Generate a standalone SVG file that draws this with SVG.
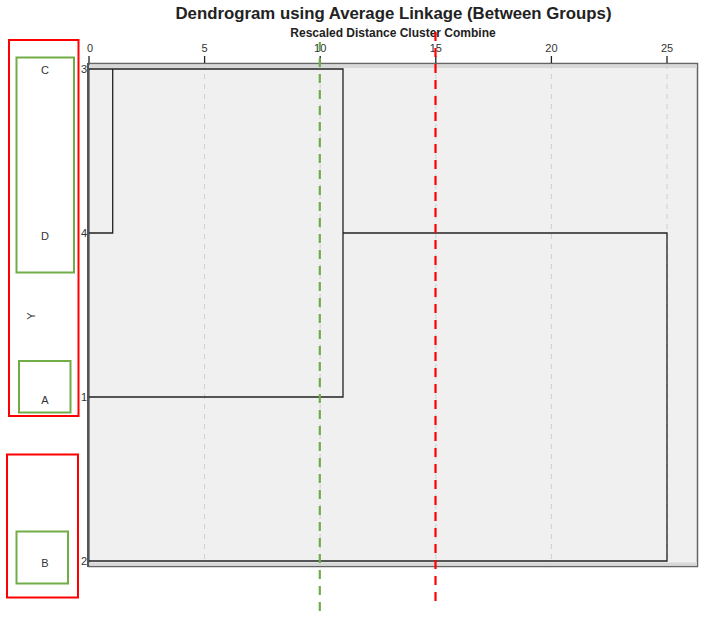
<svg xmlns="http://www.w3.org/2000/svg" width="706" height="620" viewBox="0 0 706 620">
<style>
text{font-family:"Liberation Sans",Arial,sans-serif;fill:#222}
.title{font-size:16.8px;font-weight:bold;text-anchor:middle}
.sub{font-size:12px;font-weight:bold;text-anchor:middle}
.tick{font-size:11px;text-anchor:middle;fill:#333}
.row{font-size:11px;text-anchor:end;fill:#333}
.lbl{font-size:11px;text-anchor:middle;fill:#333}
.grid{stroke:#cfcfcf;stroke-width:1;stroke-dasharray:5,5}
.dend{fill:none;stroke:#222;stroke-width:1.3}
.red{fill:none;stroke:#f00;stroke-width:2}
.green{fill:none;stroke:#70ad47;stroke-width:2}
.cut{fill:none;stroke-width:2.2;stroke-dasharray:9,7}
</style>
<rect width="706" height="620" fill="#fff"/>
<text class="title" x="393.5" y="19">Dendrogram using Average Linkage (Between Groups)</text>
<text class="sub" x="393" y="36.5">Rescaled Distance Cluster Combine</text>
<g id="plot">
<rect x="89" y="63.5" width="608.5" height="503" fill="#f0f0f0" stroke="#666" stroke-width="1.5"/>
<line x1="89" y1="66.5" x2="697" y2="66.5" stroke="#d8d8d8" stroke-width="3"/>
<line x1="89" y1="564" x2="697" y2="564" stroke="#d8d8d8" stroke-width="3"/>
<line x1="88" y1="63" x2="88" y2="567" stroke="#555" stroke-width="2"/>
<g id="grid">
<line class="grid" x1="204.6" y1="64" x2="204.6" y2="566"/>
<line class="grid" x1="320.2" y1="64" x2="320.2" y2="566"/>
<line class="grid" x1="435.8" y1="64" x2="435.8" y2="566"/>
<line class="grid" x1="551.4" y1="64" x2="551.4" y2="566"/>
<line class="grid" x1="667" y1="64" x2="667" y2="566"/>
</g>
<g id="ticks" stroke="#222" stroke-width="1.3">
<line x1="89" y1="56" x2="89" y2="63"/>
<line x1="204.6" y1="56" x2="204.6" y2="63"/>
<line x1="320.2" y1="56" x2="320.2" y2="63"/>
<line x1="435.8" y1="56" x2="435.8" y2="63"/>
<line x1="551.4" y1="56" x2="551.4" y2="63"/>
<line x1="667" y1="56" x2="667" y2="63"/>
</g>
<text class="tick" x="90" y="52">0</text>
<text class="tick" x="204.6" y="52">5</text>
<text class="tick" x="320.2" y="52">10</text>
<text class="tick" x="435.8" y="52">15</text>
<text class="tick" x="551.4" y="52">20</text>
<text class="tick" x="667" y="52">25</text>
<text class="row" x="87" y="73">3</text>
<text class="row" x="87" y="237">4</text>
<text class="row" x="87" y="401">1</text>
<text class="row" x="87" y="565">2</text>
</g>
<g id="connectors">
<polyline class="dend" points="89,69 343,69 343,397 89,397"/>
<polyline class="dend" points="112.7,69 112.7,233 89,233"/>
<polyline class="dend" points="343,233 667,233 667,561 89,561"/>
</g>
<g id="cuts">
<line class="cut" stroke="#70ad47" x1="319.8" y1="42" x2="319.8" y2="612"/>
<line class="cut" stroke="#f00" x1="435.5" y1="32" x2="435.5" y2="606"/>
</g>
<g id="cluster1"><rect class="red" x="9" y="40" width="69.5" height="376"/></g>
<g id="cluster2"><rect class="red" x="7" y="454.5" width="71" height="143"/></g>
<g id="nodeC"><rect class="green" x="16.5" y="57.5" width="57.5" height="215"/><text class="lbl" x="45" y="74">C</text></g>
<g id="nodeD"><text class="lbl" x="45" y="240">D</text></g>
<g id="nodeA"><rect class="green" x="19" y="361" width="51.5" height="51.5"/><text class="lbl" x="45" y="404">A</text></g>
<g id="nodeB"><rect class="green" x="16.5" y="531.5" width="51.5" height="52"/><text class="lbl" x="45" y="567">B</text></g>
<text class="lbl" x="0" y="0" transform="translate(35,316) rotate(-90)">Y</text>
</svg>
